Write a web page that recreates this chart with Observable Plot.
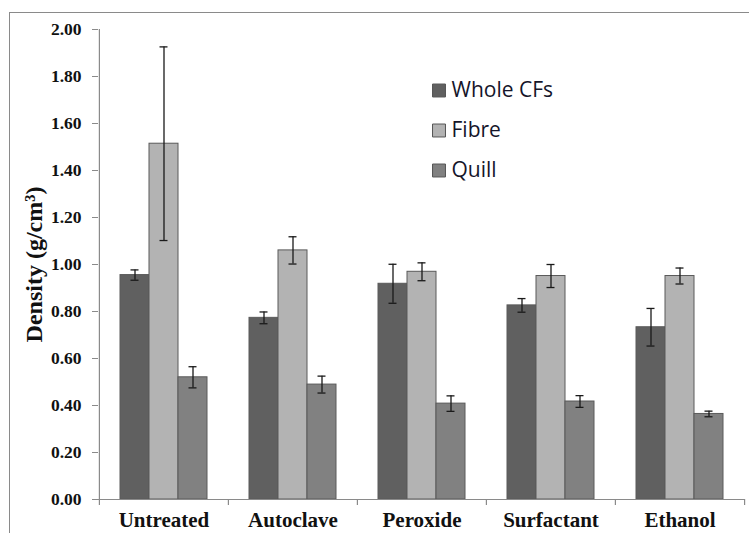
<!DOCTYPE html>
<html>
<head>
<meta charset="utf-8">
<script src="https://cdn.jsdelivr.net/npm/d3@7"></script>
<script src="https://cdn.jsdelivr.net/npm/@observablehq/plot@0.6"></script>
<style>
  html, body { margin: 0; padding: 0; background: #fff; }
  #wrap { position: relative; width: 749px; height: 533px; overflow: hidden; }
  #border { position: absolute; left: 9px; top: 12px; width: 760px; height: 540px;
            border-left: 1.5px solid #8a8a8a; border-top: 1.5px solid #8a8a8a; box-sizing: border-box; }
  #chart { position: absolute; left: 0; top: 0; }
</style>
</head>
<body>
<div id="wrap"><div id="border"></div><div id="chart"></div></div>
<script>
const categories = ["Untreated", "Autoclave", "Peroxide", "Surfactant", "Ethanol"];
const seriesNames = ["Whole CFs", "Fibre", "Quill"];
const wholeCFs    = [0.955, 0.773, 0.918, 0.826, 0.733];
const wholeCFsErr = [0.022, 0.025, 0.083, 0.029, 0.080];
const fibre       = [1.514, 1.060, 0.969, 0.951, 0.951];
const fibreErr    = [0.412, 0.058, 0.038, 0.049, 0.034];
const quill       = [0.520, 0.489, 0.408, 0.417, 0.364];
const quillErr    = [0.045, 0.036, 0.033, 0.025, 0.012];
const yTicks = [0, 0.2, 0.4, 0.6, 0.8, 1.0, 1.2, 1.4, 1.6, 1.8, 2.0];
const colors = ["#606060", "#b3b3b3", "#818181"];

const values = [wholeCFs, fibre, quill];
const errs = [wholeCFsErr, fibreErr, quillErr];
const data = categories.flatMap((c, i) => seriesNames.map((s, j) => ({
  category: c, series: s, value: values[j][i], err: errs[j][i]
})));

const W = 749, H = 533, ML = 98, MR = 5, MT = 29, MB = 34;
const step = (W - ML - MR) / categories.length;
const bw = 29;
const pInner = 1 - bw / step;
const pOuter = pInner / 2;

const serif = "'Liberation Serif', 'Times New Roman', serif";
const sans = "'Open Sans', 'Noto Sans', sans-serif";

const marks = [];
seriesNames.forEach((s, j) => {
  const sub = data.filter(d => d.series === s);
  const dx = (j - 1) * bw;
  marks.push(Plot.barY(sub, {x: "category", y: "value", fill: colors[j], stroke: "#5a5a5a", strokeWidth: 1, dx}));
});
seriesNames.forEach((s, j) => {
  const sub = data.filter(d => d.series === s);
  const dx = (j - 1) * bw;
  marks.push(Plot.ruleX(sub, {x: "category", y1: d => d.value - d.err, y2: d => d.value + d.err, stroke: "#1a1a1a", strokeWidth: 1.3, dx}));
  marks.push(Plot.tickY(sub, {x: "category", y: d => d.value + d.err, stroke: "#1a1a1a", strokeWidth: 1.3, insetLeft: 10.5, insetRight: 10.5, dx}));
  marks.push(Plot.tickY(sub, {x: "category", y: d => d.value - d.err, stroke: "#1a1a1a", strokeWidth: 1.3, insetLeft: 10.5, insetRight: 10.5, dx}));
});
// axis lines
marks.push(Plot.ruleY([0], {stroke: "#8a8a8a", strokeWidth: 1.2}));
marks.push(Plot.ruleX([categories[0]], {x: d => d, y1: 0, y2: 2, dx: -step / 2, stroke: "#8a8a8a", strokeWidth: 1.2}));
// category boundary ticks
marks.push(Plot.ruleX(categories, {x: d => d, y1: 0, y2: 0, insetBottom: -6, dx: -step / 2, stroke: "#8a8a8a", strokeWidth: 1.2}));
marks.push(Plot.ruleX([categories[categories.length - 1]], {x: d => d, y1: 0, y2: 0, insetBottom: -6, dx: step / 2, stroke: "#8a8a8a", strokeWidth: 1.2}));
// axes
marks.push(Plot.axisY(yTicks, {tickFormat: d3.format(".2f"), tickSize: 6, tickPadding: 11, stroke: "#8a8a8a",
  fill: "#111", fontSize: 17.5, fontWeight: "bold", fontFamily: serif, label: null}));
marks.push(Plot.axisX({tickSize: 0, tickPadding: 13, fill: "#111", fontSize: 21, fontWeight: "bold", fontFamily: serif, label: null}));
// y label
marks.push(Plot.text(["Density (g/cm³)"], {frameAnchor: "left", textAnchor: "middle", lineAnchor: "middle", rotate: -90, dx: -64, fontSize: 24, fontWeight: "bold",
  fontFamily: serif, fill: "#111"}));
// legend
seriesNames.forEach((s, i) => {
  marks.push(Plot.dot([s], {frameAnchor: "top-left", dx: 340.5, dy: 61 + 40 * i, symbol: "square", r: 7.3,
    fill: colors[i], stroke: "#555", strokeWidth: 1}));
  marks.push(Plot.text([s], {frameAnchor: "top-left", dx: 353, dy: 61 + 40 * i, text: d => d, textAnchor: "start", lineAnchor: "middle",
    fontSize: 21, fontFamily: sans, fill: "#15152a"}));
});

const chart = Plot.plot({
  width: W, height: H,
  marginLeft: ML, marginRight: MR, marginTop: MT, marginBottom: MB,
  x: {domain: categories, paddingInner: pInner, paddingOuter: pOuter, axis: null},
  y: {domain: [0, 2], axis: null},
  style: {background: "transparent", overflow: "visible"},
  marks
});
document.getElementById("chart").appendChild(chart);
</script>
</body>
</html>
